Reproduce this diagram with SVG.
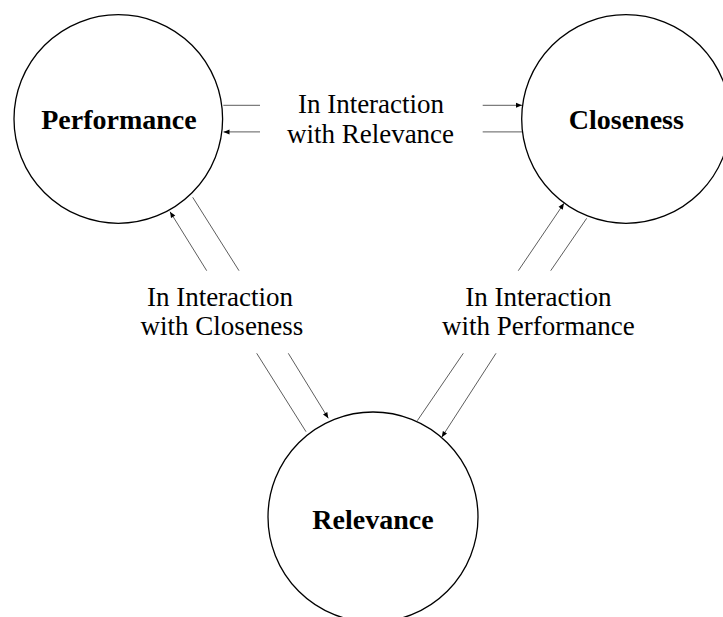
<svg xmlns="http://www.w3.org/2000/svg" width="723" height="617" viewBox="0 0 723 617">
<style>
.node{fill:#fff;stroke:#000;stroke-width:1.3}
.nt{font-family:"Liberation Serif","Times New Roman",serif;font-weight:bold;font-size:28px;fill:#000;text-anchor:middle}
.lt{font-family:"Liberation Serif","Times New Roman",serif;font-size:27px;fill:#000;text-anchor:middle}
.c{stroke:#333;stroke-width:0.8;fill:none}
.a{marker-end:url(#ah)}
</style>
<defs>
<marker id="ah" markerUnits="userSpaceOnUse" markerWidth="8" markerHeight="8" refX="7" refY="4" orient="auto">
<path d="M1,1.5 L7,4 L1,6.5 Z" fill="#000"/>
</marker>
</defs>
<rect width="723" height="617" fill="#fff"/>
<g id="performance">
<circle class="node" cx="118.3" cy="119" r="104.3"/>
<text class="nt" x="119" y="129.3">Performance</text>
</g>
<g id="closeness">
<circle class="node" cx="626" cy="119" r="104.3"/>
<text class="nt" x="626.3" y="129.3">Closeness</text>
</g>
<g id="relevance">
<circle class="node" cx="373" cy="517" r="105"/>
<text class="nt" x="373" y="529">Relevance</text>
</g>
<g id="connectors">
<line class="c" x1="223.3" y1="105.3" x2="260" y2="105.3"/>
<line class="c a" x1="482.7" y1="105.3" x2="522" y2="105.3"/>
<line class="c a" x1="260" y1="131.9" x2="223.5" y2="131.9"/>
<line class="c" x1="482.7" y1="131.9" x2="522" y2="131.9"/>
<line class="c a" x1="206.7" y1="270.7" x2="170" y2="211.7"/>
<line class="c" x1="192.7" y1="197.3" x2="239" y2="270.7"/>
<line class="c" x1="256.7" y1="353.3" x2="306" y2="431.7"/>
<line class="c a" x1="288.3" y1="353.3" x2="328.3" y2="418.3"/>
<line class="c a" x1="518.3" y1="270.7" x2="564" y2="203.3"/>
<line class="c" x1="586.7" y1="218.3" x2="550.7" y2="270.7"/>
<line class="c" x1="463.3" y1="353.3" x2="417.3" y2="420.7"/>
<line class="c a" x1="496" y1="353.3" x2="441.7" y2="437.3"/>
</g>
<g id="labels">
<text class="lt" x="371" y="113.3">In Interaction</text>
<text class="lt" x="370.5" y="142.7">with Relevance</text>
<text class="lt" x="220" y="306">In Interaction</text>
<text class="lt" x="222" y="335">with Closeness</text>
<text class="lt" x="538.3" y="306">In Interaction</text>
<text class="lt" x="538.3" y="335">with Performance</text>
</g>
</svg>
